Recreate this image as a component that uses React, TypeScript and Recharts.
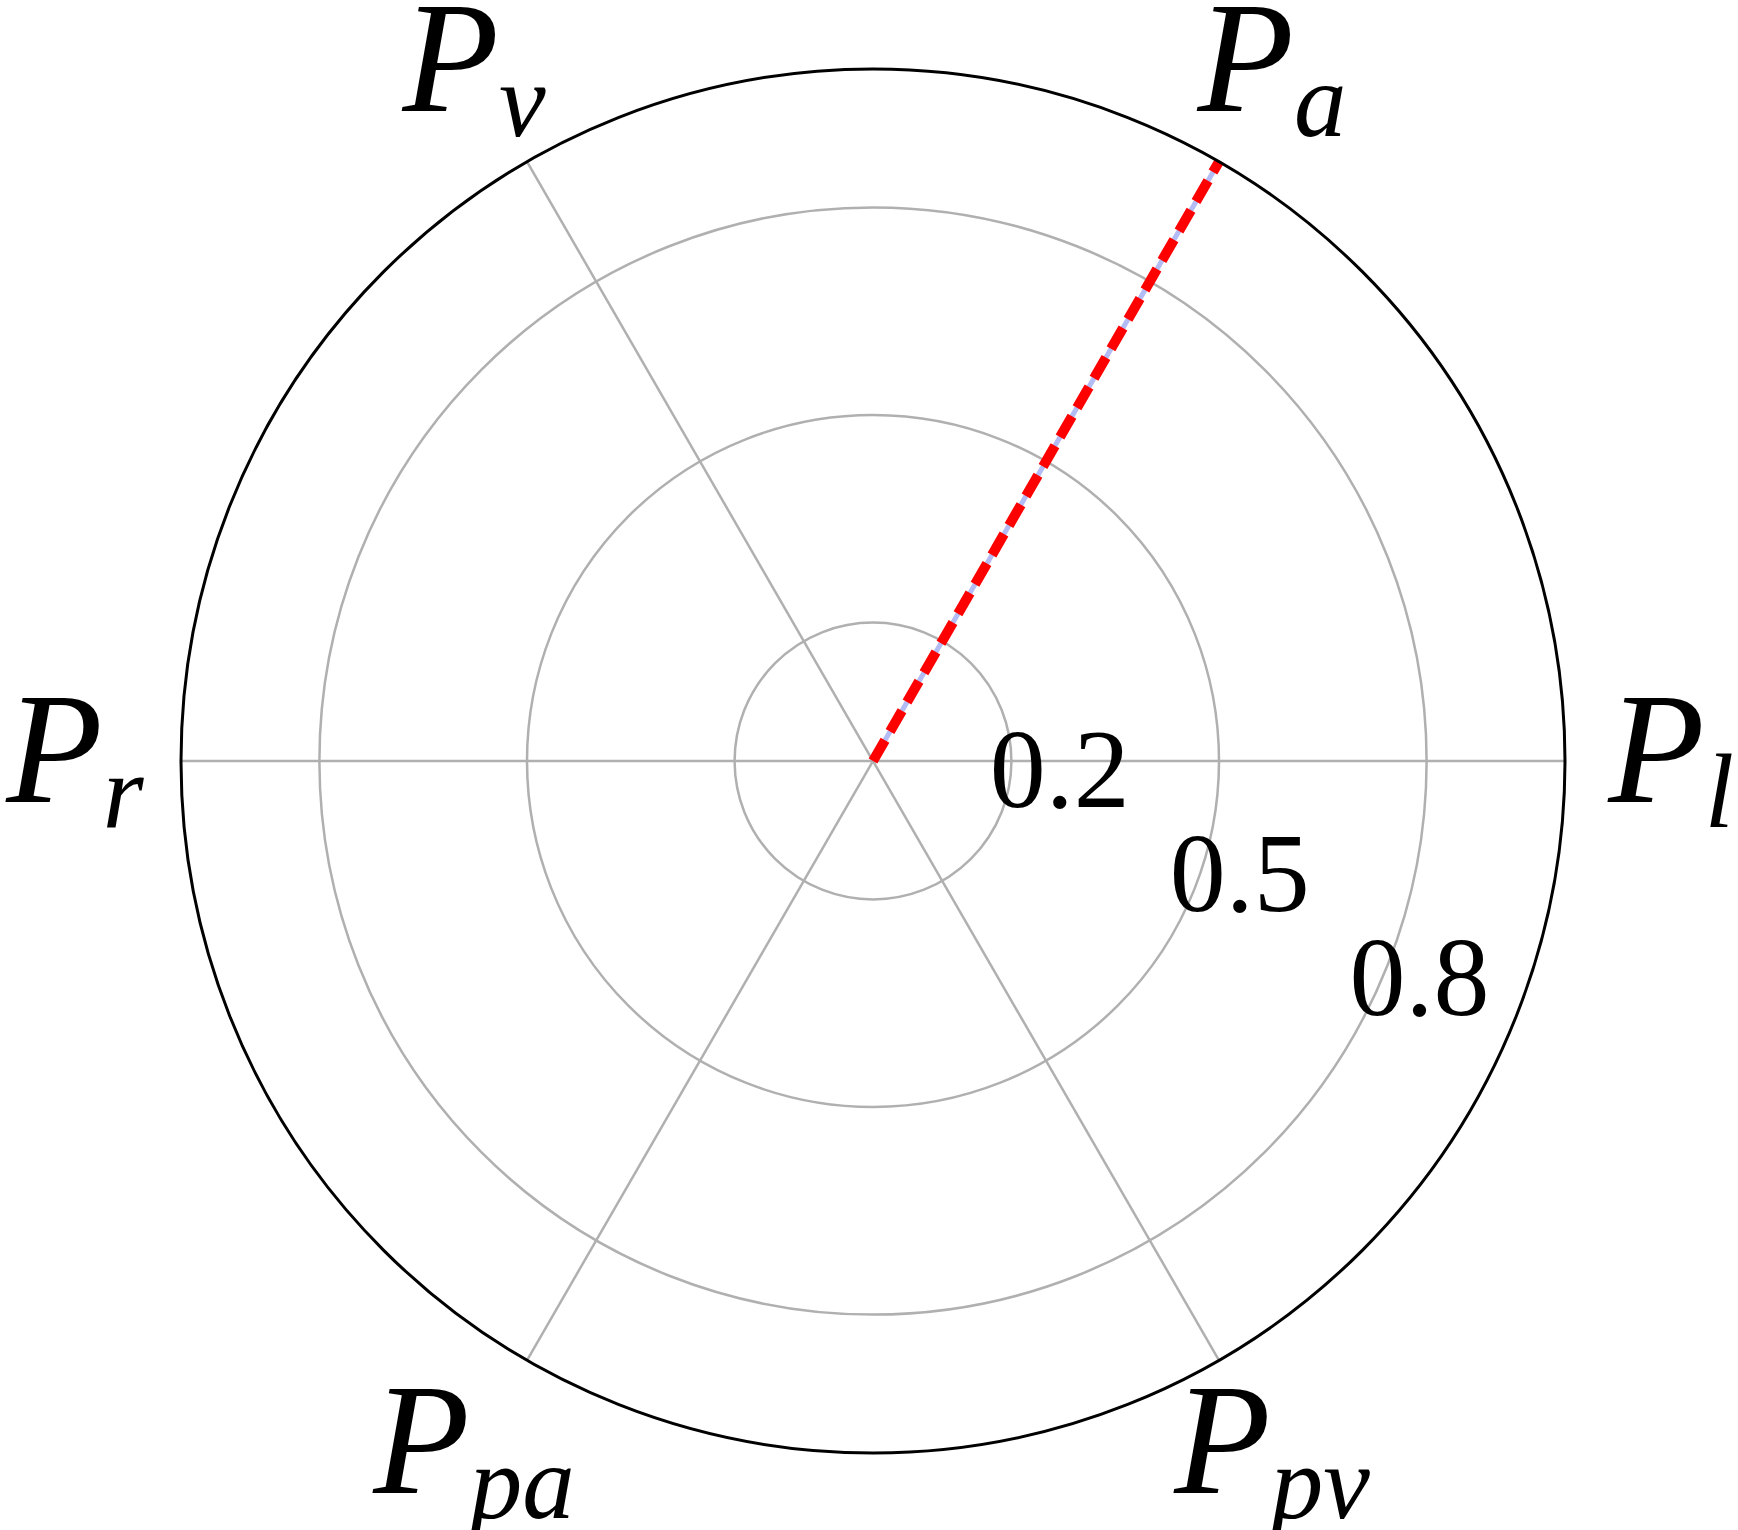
import React from 'react';
import {
  RadarChart,
  Radar,
  PolarGrid,
  PolarAngleAxis,
  PolarRadiusAxis,
} from 'recharts';

// axis labels are P with these subscripts, clockwise from the right
const subscripts = ['l', 'pv', 'pa', 'r', 'v', 'a'];
const blueValues = [0, 0, 0, 0, 0, 1];
const redValues = [0, 0, 0, 0, 0, 1];
const radiusTicks = [0.2, 0.5, 0.8];
const radiusDomain = [0, 1];

const data = subscripts.map((sub, i) => ({
  sub,
  blue: blueValues[i],
  red: redValues[i],
}));

const W = 1738;
const H = 1530;
const CX = 873;
const CY = 761;
const OUTER = 692;
const FONT = '"Liberation Serif", "DejaVu Serif", serif';

function AngleTick(props: any) {
  const { x, y, payload } = props;
  // push the label out along the same direction as the tick point
  const dx = x - CX;
  const dy = y - CY;
  const len = Math.sqrt(dx * dx + dy * dy) || 1;
  const r = OUTER + 106;
  const tx = CX + (dx / len) * r;
  const ty = CY + (dy / len) * r + 41;
  return (
    <text x={tx} y={ty} textAnchor="middle" fontFamily={FONT} fontStyle="italic" fill="#000">
      <tspan fontSize={158}>P</tspan>
      <tspan fontSize={105} dy={25}>
        {payload.value}
      </tspan>
    </text>
  );
}

function RadiusTick(props: any) {
  const { x, y, payload } = props;
  return (
    <text x={x - 3} y={y - 23} textAnchor="start" fontFamily={FONT} fontSize={112} fill="#000">
      {String(payload.value)}
    </text>
  );
}

export default function App() {
  return (
    <div style={{ position: 'absolute', left: 0, top: 0, width: W, height: H, background: '#fff' }}>
      <RadarChart
        width={W}
        height={H}
        data={data}
        cx={CX}
        cy={CY}
        outerRadius={OUTER}
        startAngle={0}
        endAngle={-360}
        margin={{ top: 0, right: 0, bottom: 0, left: 0 }}
      >
        <PolarGrid gridType="circle" stroke="#b0b0b0" strokeWidth={2.5} />
        <PolarAngleAxis
          dataKey="sub"
          stroke="#000"
          axisLine={{ stroke: '#000', strokeWidth: 3 }}
          axisLineType="circle"
          tickLine={false}
          tick={<AngleTick />}
        />
        <PolarRadiusAxis
          angle={-30}
          domain={radiusDomain}
          ticks={radiusTicks}
          axisLine={false}
          tickLine={false}
          tick={<RadiusTick />}
        />
        <Radar
          dataKey="blue"
          stroke="#b3bcf5"
          strokeWidth={5}
          fill="none"
          dot={false}
          isAnimationActive={false}
        />
        <Radar
          dataKey="red"
          stroke="#ff0000"
          strokeWidth={10}
          strokeDasharray="24 10"
          fill="none"
          dot={false}
          isAnimationActive={false}
        />
      </RadarChart>
    </div>
  );
}
